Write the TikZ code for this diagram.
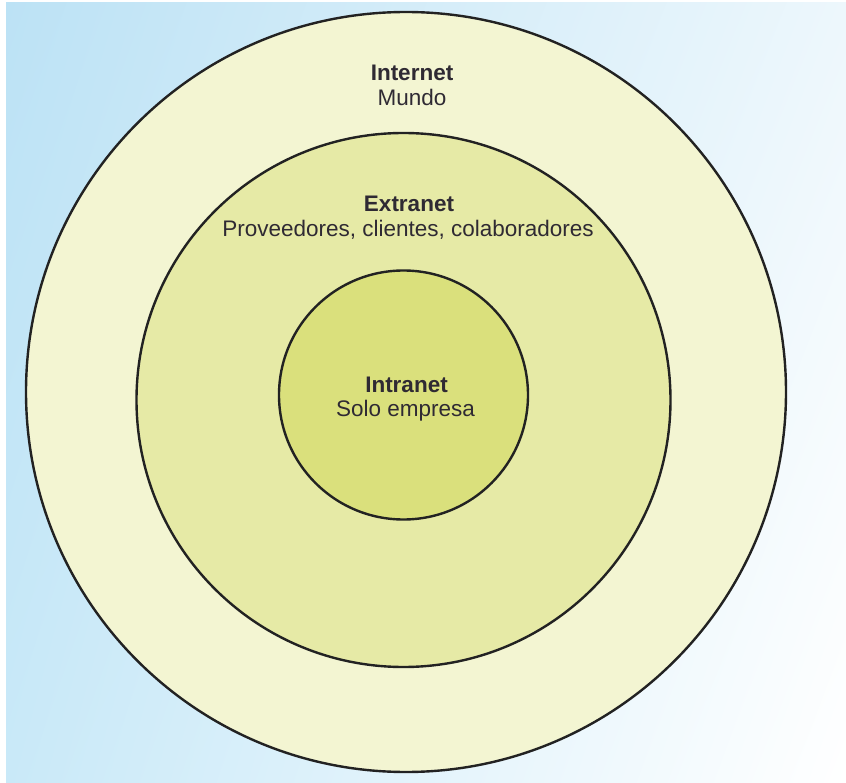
\documentclass[tikz,border=0pt]{standalone}
\usepackage{fontspec}
\setmainfont{Liberation Sans}
\usetikzlibrary{shadings}
\definecolor{bgblue}{HTML}{BCE2F5}
\definecolor{bgblueb}{HTML}{C9E9F8}
\definecolor{bgpale}{HTML}{EDF7FC}
\definecolor{outerfill}{HTML}{F3F5D2}
\definecolor{middlefill}{HTML}{E6EAA6}
\definecolor{innerfill}{HTML}{DAE07C}
\definecolor{ringline}{HTML}{222222}
\definecolor{textdark}{HTML}{2F2A33}

\begin{document}
\begin{tikzpicture}[x=1pt,y=-1pt,
  ring/.style={circle,draw=ringline,line width=2.4pt,inner sep=0pt},
  zonetext/.style={anchor=base,inner sep=0pt,text=textdark,font=\fontsize{22.5}{25}\selectfont}]
\useasboundingbox (0,0) rectangle (846,783);
% background
\fill [white] (0,0) rectangle (846,783);
\shade [upper left=bgblue, upper right=bgpale, lower left=bgblueb, lower right=white] (6,3) rectangle (846,783);
% rings
\node [ring, fill=outerfill,  minimum size=760pt] (internet) at (406,392)   {};
\node [ring, fill=middlefill, minimum size=534pt] (extranet) at (403.5,400) {};
\node [ring, fill=innerfill,  minimum size=249pt] (intranet) at (403.5,395) {};
% texts
\node [zonetext, font=\fontsize{22.5}{25}\selectfont\bfseries] (internettitle) at (412,81)  {Internet};
\node [zonetext] (internetsub)   at (412,106) {Mundo};
\node [zonetext, font=\fontsize{22.5}{25}\selectfont\bfseries] (extranettitle) at (409,212) {Extranet};
\node [zonetext] (extranetsub)   at (408,237) {Proveedores, clientes, colaboradores};
\node [zonetext, font=\fontsize{22.5}{25}\selectfont\bfseries] (intranettitle) at (406.5,392) {Intranet};
\node [zonetext] (intranetsub)   at (405.5,417) {Solo empresa};
\end{tikzpicture}
\end{document}
